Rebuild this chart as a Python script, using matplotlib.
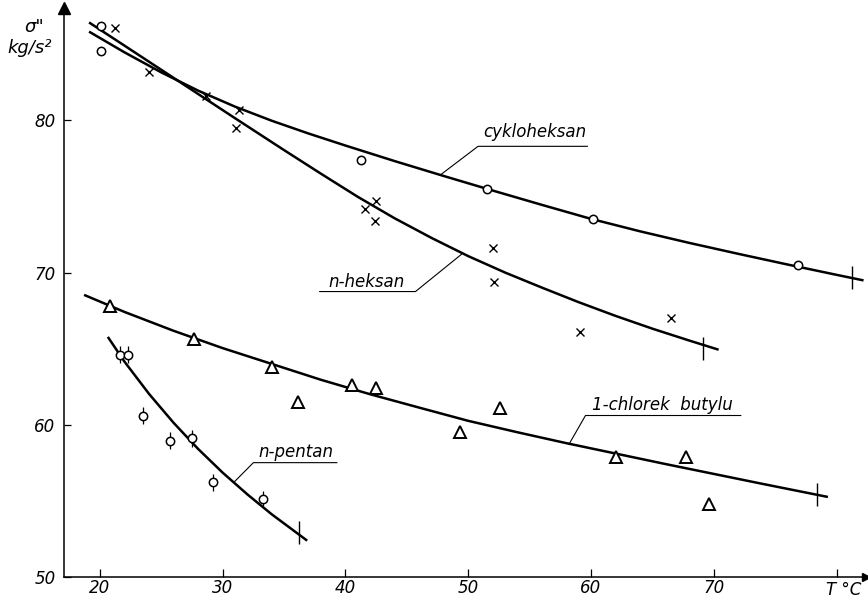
import matplotlib
matplotlib.use("Agg")
import matplotlib.pyplot as plt

plt.rcParams['font.family'] = ['DejaVu Sans']
plt.rcParams['font.style'] = 'italic'

# measured points (T in degC, sigma'' in kg/s^2)
cyk_T = [20.1, 20.1, 41.3, 51.5, 60.2, 76.9]
cyk_s = [86.2, 84.6, 77.4, 75.5, 73.5, 70.5]
hek_T = [21.2, 24.0, 28.6, 31.3, 31.1, 41.6, 42.5, 42.4, 52.0, 52.1, 59.1, 66.5]
hek_s = [86.1, 83.2, 81.6, 80.7, 79.5, 74.2, 74.7, 73.4, 71.6, 69.4, 66.1, 67.0]
chl_T = [20.8, 27.7, 34.0, 36.1, 40.5, 42.5, 49.3, 52.6, 62.0, 67.7, 69.6]
chl_s = [67.8, 65.6, 63.8, 61.5, 62.6, 62.4, 59.5, 61.1, 57.9, 57.9, 54.8]
pen_T = [21.6, 22.3, 23.5, 25.7, 27.5, 29.2, 33.3]
pen_s = [64.6, 64.6, 60.6, 58.95, 59.1, 56.2, 55.1]
pen_err = 0.55

# hand-drawn curves
cyk_cT = [19.2, 22, 25, 28, 31, 34, 37, 40, 44, 48, 52, 56, 60, 64, 68, 72, 76, 80, 82.1]
cyk_cs = [85.8, 84.48, 83.16, 81.96, 80.91, 79.98, 79.14, 78.35, 77.33, 76.35, 75.39,
          74.45, 73.53, 72.71, 71.95, 71.23, 70.53, 69.85, 69.5]
hek_cT = [19.2, 23, 27, 31, 35, 38, 41, 44, 47, 50, 53, 56, 59, 62, 65, 68, 70.3]
hek_cs = [86.4, 84.39, 82.27, 80.15, 78.05, 76.5, 74.98, 73.57, 72.28, 71.08, 70.0,
          69.01, 68.05, 67.15, 66.31, 65.53, 64.95]
chl_cT = [18.8, 22, 26, 30, 34, 38, 42, 46, 50, 54, 58, 62, 66, 70, 74, 79.2]
chl_cs = [68.5, 67.41, 66.17, 65.03, 63.99, 62.95, 62.0, 61.12, 60.25, 59.5, 58.78,
          58.1, 57.42, 56.76, 56.1, 55.26]
pen_cT = [20.7, 22, 24, 26, 28, 30, 32, 34, 36.8]
pen_cs = [65.7, 64.14, 62.02, 60.12, 58.4, 56.84, 55.42, 54.1, 52.42]

# end marks of the curves
end_T = [81.3, 69.1, 78.4, 36.2]
end_s = [69.7, 65.0, 55.4, 52.9]

fig = plt.figure(figsize=(8.68, 6.0), dpi=100)
ax = fig.add_axes([0.0737, 0.0388, 0.924, 0.948])
ax.set_xlim(17.07, 82.4)
ax.set_ylim(50, 87.4)

lw = 1.8
ax.plot(cyk_cT, cyk_cs, color='black', lw=lw)
ax.plot(hek_cT, hek_cs, color='black', lw=lw)
ax.plot(chl_cT, chl_cs, color='black', lw=lw)
ax.plot(pen_cT, pen_cs, color='black', lw=lw)

ax.plot(cyk_T, cyk_s, 'o', ms=6, mfc='white', mec='black', mew=1.1)
ax.plot(hek_T, hek_s, 'x', ms=6, color='black', mew=1.0)
ax.plot(chl_T, chl_s, '^', ms=8, mfc='white', mec='black', mew=1.4)
ax.errorbar(pen_T, pen_s, yerr=pen_err, fmt='o', ms=6, mfc='white', mec='black',
            mew=1.1, ecolor='black', elinewidth=0.9, capsize=0)
ax.errorbar(end_T, end_s, yerr=0.75, fmt='none', ecolor='black', elinewidth=1.0, capsize=0)

# labels with leaders
fs = 12
ax.text(55.4, 79.25, 'cykloheksan', fontsize=fs, ha='center', va='center')
ax.plot([47.7, 50.8, 59.7], [76.4, 78.3, 78.3], color='black', lw=0.8)
ax.text(41.7, 69.4, 'n-heksan', fontsize=fs, ha='center', va='center')
ax.plot([49.45, 45.7, 37.9], [71.2, 68.75, 68.75], color='black', lw=0.8)
ax.text(65.8, 61.3, '1-chlorek  butylu', fontsize=fs, ha='center', va='center')
ax.plot([58.2, 59.55, 72.2], [58.7, 60.6, 60.6], color='black', lw=0.8)
ax.text(36.0, 58.2, 'n-pentan', fontsize=fs, ha='center', va='center')
ax.plot([30.9, 32.5, 39.3], [56.2, 57.5, 57.5], color='black', lw=0.8)

# axes as arrows
for s in ['top', 'right']:
    ax.spines[s].set_visible(False)
ax.spines['left'].set_linewidth(1.1)
ax.spines['bottom'].set_linewidth(1.1)
ax.plot(1, 0, '>k', ms=6, transform=ax.transAxes, clip_on=False)
ax.plot(0, 1, '^k', ms=9, transform=ax.transAxes, clip_on=False)

ax.set_xticks([20, 30, 40, 50, 60, 70, 80])
ax.set_xticklabels(['20', '30', '40', '50', '60', '70', ''])
ax.set_yticks([50, 60, 70, 80])
ax.tick_params(direction='in', length=6, width=0.9, labelsize=12, pad=2)
ax.tick_params(axis='y', length=5, pad=6)

ax.text(80.6, 49.75, 'T °C', fontsize=12, ha='center', va='top')
fig.text(34 / 868, 1 - 27 / 600, 'σ"', fontsize=13, ha='center', va='center', style='italic')
fig.text(30 / 868, 1 - 48 / 600, 'kg/s²', fontsize=13, ha='center', va='center', style='italic')

fig.savefig('out.png', dpi=100)
